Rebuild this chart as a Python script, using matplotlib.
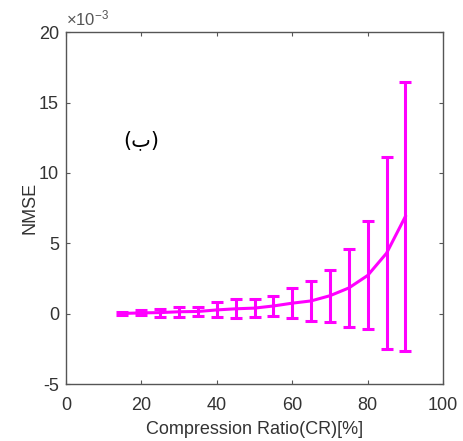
import matplotlib
matplotlib.use("Agg")
import matplotlib.pyplot as plt

cr = [15, 20, 25, 30, 35, 40, 45, 50, 55, 60, 65, 70, 75, 80, 85, 90]
nmse_mean = [0.02, 0.06, 0.08, 0.14, 0.16, 0.27, 0.35, 0.40, 0.55, 0.75, 0.91, 1.28, 1.83, 2.72, 4.30, 6.91]
nmse_err = [0.13, 0.17, 0.28, 0.37, 0.33, 0.53, 0.67, 0.62, 0.72, 1.05, 1.41, 1.86, 2.77, 3.84, 6.80, 9.54]
xticks = [0, 20, 40, 60, 80, 100]
yticks = [-5, 0, 5, 10, 15, 20]

plt.rcParams['font.family'] = ['Liberation Sans', 'DejaVu Sans']
plt.rcParams['axes.unicode_minus'] = False
plt.rcParams['mathtext.fontset'] = 'custom'
plt.rcParams['mathtext.rm'] = 'Liberation Sans'
plt.rcParams['mathtext.it'] = 'Liberation Sans'
fig = plt.figure(figsize=(4.64, 4.41), dpi=100)
ax = fig.add_axes([0.142, 0.129, 0.813, 0.798])

col = '#FF00FF'
ax.errorbar(cr, nmse_mean, yerr=nmse_err, color=col, lw=2.2, elinewidth=2.2,
            capsize=4.5, capthick=2.2)

ax.set_xlim(0, 100)
ax.set_ylim(-5, 20)
ax.set_xticks(xticks)
ax.set_yticks(yticks)
tc = '#333333'
ax.tick_params(direction='in', top=True, right=True, labelsize=13, labelcolor=tc,
               color='#555555', length=3, width=0.8, pad=5)
ax.tick_params(axis='x', pad=9)
for s in ax.spines.values():
    s.set_color('#555555')
    s.set_linewidth(1.0)
ax.set_xlabel('Compression Ratio(CR)[%]', fontsize=13, color=tc, labelpad=5)
ax.set_ylabel('NMSE', fontsize=13, color=tc, labelpad=0)
ax.text(0.0, 1.012, '×10$^{-3}$', transform=ax.transAxes, fontsize=12, color='#555555',
        ha='left', va='bottom')
ax.text(20, 12.3, '(ب)', fontsize=15, color='black', ha='center', va='center',
        family=['DejaVu Sans'])

fig.savefig('out.png', dpi=100)
